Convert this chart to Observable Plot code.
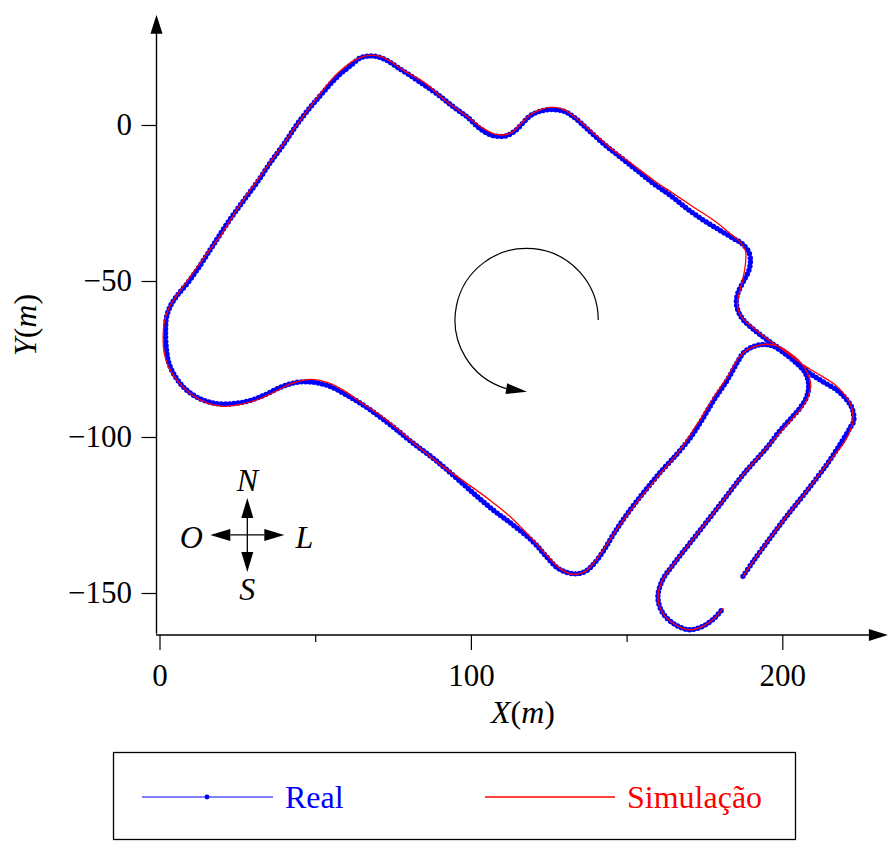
<!DOCTYPE html>
<html><head><meta charset="utf-8">
<script src="https://cdn.jsdelivr.net/npm/d3@7"></script>
<script src="https://cdn.jsdelivr.net/npm/@observablehq/plot@0.6"></script>
<style>
body{margin:0;background:#fff;width:888px;height:842px;overflow:hidden;position:relative;font-family:"Liberation Serif",serif}
#chart svg{display:block}
#legend{position:absolute;left:0;top:745px}
</style></head><body>
<div id="chart"></div>
<svg id="legend" width="888" height="97"></svg>
<script>
// ---- data (metres) ----
const realX = [187.2,190.7,196.1,201.4,207.8,214.3,218.5,221.7,222.8,222.3,
220.7,217.5,213.2,208.9,205.7,201.4,196.1,191.8,187.5,185.6,
185.1,185.7,187.5,189.1,189.6,189.1,187.0,184.3,180.0,174.6,
169.3,163.9,158.6,153.2,147.9,142.5,137.2,132.9,129.7,125.4,
122.2,119.0,116.8,114.2,111.5,109.3,106.1,102.9,98.7,94.3,
89.0,84.7,80.4,76.2,73.0,69.7,67.6,64.4,61.2,58.0,
54.8,51.5,48.3,44.1,39.8,35.5,31.2,26.9,22.6,18.9,
16.2,12.5,8.7,5.5,3.4,2.1,1.8,2.0,2.8,4.4,
7.6,11.9,17.3,22.6,28.0,33.3,38.7,44.1,49.4,54.8,
60.1,65.4,70.8,75.6,81.5,87.9,94.3,100.8,107.2,113.6,
120.0,124.3,128.1,132.9,136.6,139.3,142.5,145.7,150.0,155.4,
160.7,166.1,170.4,173.6,177.8,182.1,185.4,187.5,190.7,193.9,
197.1,201.4,204.6,206.7,208.0,208.3,207.6,205.7,202.5,198.7,
195.0,187.5,180.0,172.5,165.0,161.3,159.9,161.3,165.0,169.8,174.1,177.8,180.7];
const realY = [-144.5,-139.4,-132.0,-125.0,-117.0,-108.4,-102.0,-96.7,-94.6,-90.8,
-88.1,-84.9,-82.3,-79.6,-76.9,-73.2,-69.5,-66.3,-62.5,-59.3,
-56.1,-53.4,-49.7,-46.5,-43.3,-40.6,-37.9,-36.3,-33.7,-30.4,
-26.7,-22.4,-18.7,-14.4,-10.2,-5.9,-1.1,2.7,4.6,5.1,
4.6,3.2,1.1,-1.6,-3.2,-3.5,-3.0,-1.1,2.7,5.9,
10.1,13.1,16.0,18.7,20.8,22.1,22.3,21.7,19.2,16.6,
13.4,9.6,5.9,0.5,-5.9,-11.8,-18.2,-24.0,-29.9,-35.5,
-39.7,-45.4,-50.7,-54.5,-57.7,-61.4,-65.7,-71.1,-75.9,-79.6,
-83.9,-87.1,-89.0,-89.2,-88.4,-86.5,-83.9,-82.3,-82.3,-83.7,
-86.5,-89.7,-93.5,-97.2,-102.0,-106.8,-112.2,-118.0,-123.4,-128.2,
-133.6,-138.4,-142.1,-143.7,-142.9,-140.5,-136.2,-130.9,-124.5,-117.5,
-111.1,-105.2,-99.9,-95.1,-88.1,-81.7,-75.9,-72.7,-70.8,-70.2,
-70.8,-73.7,-76.4,-78.5,-81.2,-83.9,-87.1,-90.3,-94.0,-98.3,
-103.1,-111.6,-121.3,-130.9,-140.5,-145.8,-151.2,-156.0,-159.7,-161.6,-160.6,-158.1,-154.9];

const simX = [187.2,190.7,196.1,201.4,207.8,214.3,220.1,222.0,222.6,221.7,
219.6,216.4,212.1,207.8,204.6,200.3,195.0,189.6,186.4,185.4,
186.2,187.3,188.0,188.0,186.4,183.2,177.8,171.4,165.0,158.6,
152.2,145.7,139.3,134.0,129.7,125.9,122.2,119.0,115.8,113.1,
110.4,107.2,102.9,97.6,92.2,84.7,78.3,73.0,69.7,66.5,
62.2,58.0,54.8,51.5,47.3,41.9,36.5,31.2,25.9,19.4,
16.2,11.9,7.6,5.0,2.8,1.4,1.0,1.4,2.8,5.5,
9.8,15.2,20.5,25.9,31.2,36.5,41.9,48.3,53.7,59.0,
64.4,70.8,75.6,83.7,91.1,98.7,106.1,112.6,119.0,124.3,
128.6,132.9,136.6,139.9,143.6,147.9,153.2,159.7,166.1,173.6,
177.8,182.1,185.9,189.1,193.4,197.7,201.9,205.7,207.8,208.9,
208.3,206.2,203.0,198.2,195.0,187.5,180.0,172.5,165.0,161.3,
159.9,161.3,165.0,169.8,174.1,177.8,180.7];
const simY = [-144.5,-139.4,-132.0,-125.0,-117.0,-108.4,-101.0,-96.7,-93.5,-89.2,
-86.0,-82.8,-80.1,-77.5,-75.3,-72.1,-68.4,-64.1,-60.9,-57.1,
-52.9,-48.6,-44.3,-40.1,-37.4,-34.7,-30.4,-26.2,-21.9,-17.6,
-12.8,-8.0,-2.5,2.1,5.1,5.9,5.1,3.5,0.5,-2.1,
-3.0,-2.7,-0.3,3.7,7.5,13.9,17.6,21.2,22.4,22.4,
20.8,17.6,14.4,10.2,4.8,-2.7,-10.2,-17.6,-25.1,-35.3,
-39.5,-45.4,-51.3,-55.0,-58.7,-63.0,-67.9,-73.2,-77.5,-81.7,
-86.0,-89.0,-90.0,-89.4,-87.9,-85.5,-82.8,-81.4,-82.3,-84.9,
-88.7,-92.9,-96.7,-103.6,-109.5,-114.8,-120.2,-125.5,-132.0,-137.8,
-142.1,-143.9,-142.9,-139.4,-134.1,-127.7,-120.7,-112.7,-105.2,-94.0,
-87.1,-80.7,-74.3,-71.6,-70.2,-70.5,-72.7,-75.9,-79.1,-82.8,
-86.5,-90.3,-94.0,-99.4,-103.1,-111.6,-121.3,-130.9,-140.5,-145.8,
-151.2,-156.0,-159.7,-161.6,-160.6,-158.1,-154.9];

const xTicks = [0, 100, 200];
const xMinorTicks = [50, 150];
const yTicks = [0, -50, -100, -150];
const seriesNames = ["Real", "Simulação"];
const compassLabels = ["N", "S", "O", "L"];
const xLabel = "X", yLabel = "Y", unit = "m";

// annotation anchors (data units)
const compass = {x: 28.2, y: -131.4};
const rotation = {x: 117.9, y: -62.5, r: 23};
const axisXExtent = [-1.1, 233.9];
const axisYExtent = [-163.1, 35.3];

// ---- build ----
const W = 888, H = 745, axisPx = 635, axisLeft = 156.5;
const real = realX.map((x, i) => ({x, y: realY[i]}));
const sim = simX.map((x, i) => ({x, y: simY[i]}));
const fmt = d => d < 0 ? "\u2212" + Math.abs(d) : String(d);
const FONT = '"Liberation Serif", "DejaVu Serif", serif';

const plot = Plot.plot({
  width: W, height: H,
  marginLeft: axisLeft, marginRight: 0, marginTop: 15, marginBottom: H - axisPx,
  x: {domain: [0, 200], range: [159.5, 782.3]},
  y: {domain: [0, -150], range: [125, 593]},
  style: {fontFamily: FONT, color: "black", background: "white", overflow: "visible"},
  marks: [
    Plot.axisX({ticks: xTicks, tickSize: 15, tickPadding: 13, fontSize: 31, tickFormat: fmt, label: null, strokeWidth: 1.2}),
    Plot.axisX({ticks: xMinorTicks, tickSize: 7, tickFormat: () => "", label: null, strokeWidth: 1.2}),
    Plot.axisY({ticks: yTicks, tickSize: 15, tickPadding: 10, fontSize: 31, tickFormat: fmt, label: null, strokeWidth: 1.2}),
    Plot.line(real, {x: "x", y: "y", stroke: "#0000ff", strokeWidth: 1, curve: "catmull-rom"}),
    Plot.line(real, {x: "x", y: "y", stroke: "#0000ff", strokeWidth: 5.4, strokeDasharray: "0 4.2", strokeLinecap: "round", curve: "catmull-rom"}),
    Plot.line(sim, {x: "x", y: "y", stroke: "#ff0000", strokeWidth: 1.3, curve: "catmull-rom"})
  ]
});
document.getElementById("chart").appendChild(plot);

const sx = plot.scale("x"), sy = plot.scale("y");
const svg = d3.select(plot);
const g = svg.append("g");

// axis lines with arrowheads
const xa0 = sx.apply(axisXExtent[0]), xa1 = sx.apply(axisXExtent[1]);
g.append("line").attr("x1", xa0).attr("x2", xa1 - 15).attr("y1", axisPx).attr("y2", axisPx)
  .attr("stroke", "black").attr("stroke-width", 1.4);
g.append("path").attr("d", `M${xa1},${axisPx}L${xa1 - 19},${axisPx - 6}L${xa1 - 19},${axisPx + 6}Z`).attr("fill", "black");
const ya0 = sy.apply(axisYExtent[0]), ya1 = sy.apply(axisYExtent[1]);
g.append("line").attr("x1", axisLeft).attr("x2", axisLeft).attr("y1", ya0).attr("y2", ya1 + 15)
  .attr("stroke", "black").attr("stroke-width", 1.4);
g.append("path").attr("d", `M${axisLeft},${ya1}L${axisLeft - 6},${ya1 + 19}L${axisLeft + 6},${ya1 + 19}Z`).attr("fill", "black");

// axis labels
function mathLabel(sel, letter) {
  sel.append("tspan").attr("font-style", "italic").text(letter);
  sel.append("tspan").text("(");
  sel.append("tspan").attr("font-style", "italic").text(unit);
  sel.append("tspan").text(")");
}
const xl = g.append("text").attr("x", 523).attr("y", 723).attr("text-anchor", "middle")
  .attr("font-family", FONT).attr("font-size", 32);
mathLabel(xl, xLabel);
const yl = g.append("text").attr("transform", "translate(36,325) rotate(-90)").attr("text-anchor", "middle")
  .attr("font-family", FONT).attr("font-size", 32);
mathLabel(yl, yLabel);

// compass
const cx = sx.apply(compass.x), cy = sy.apply(compass.y);
const arm = 37, ah = 20, hw = 6;
g.append("line").attr("x1", cx).attr("x2", cx).attr("y1", cy - arm + ah).attr("y2", cy + arm - ah).attr("stroke", "black").attr("stroke-width", 1.3);
g.append("line").attr("x1", cx - arm + ah).attr("x2", cx + arm - ah).attr("y1", cy).attr("y2", cy).attr("stroke", "black").attr("stroke-width", 1.3);
[[0, -1], [0, 1], [-1, 0], [1, 0]].forEach(([dx, dy]) => {
  const tx = cx + dx * arm, ty = cy + dy * arm;
  const bx = cx + dx * (arm - ah), by = cy + dy * (arm - ah);
  const px = -dy * hw, py = dx * hw;
  g.append("path").attr("d", `M${tx},${ty}L${bx + px},${by + py}L${bx - px},${by - py}Z`).attr("fill", "black");
});
const lblOff = [[0, -55], [0, 54], [-56, 2], [57, 2]];
compassLabels.forEach((t, i) => {
  g.append("text").attr("x", cx + lblOff[i][0]).attr("y", cy + lblOff[i][1]).attr("dy", "0.35em")
    .attr("text-anchor", "middle").attr("font-family", FONT).attr("font-style", "italic").attr("font-size", 32).text(t);
});

// rotation arrow
const rcx = sx.apply(rotation.x), rcy = sy.apply(rotation.y), rr = sx.apply(rotation.r) - sx.apply(0);
const th = 253.5 * Math.PI / 180;
const ex = rcx + rr * Math.cos(th), ey = rcy - rr * Math.sin(th);
g.append("path").attr("d", `M${rcx + rr},${rcy}A${rr},${rr} 0 1 0 ${ex},${ey}`)
  .attr("fill", "none").attr("stroke", "black").attr("stroke-width", 1.2);
const ta = th + 8 * Math.PI / 180;
const dxT = -Math.sin(ta), dyT = -Math.cos(ta);
const tipX = ex + 21 * dxT, tipY = ey + 21 * dyT;
g.append("path").attr("d", `M${tipX},${tipY}L${ex - dyT * 5.4},${ey + dxT * 5.4}L${ex + dyT * 5.4},${ey - dxT * 5.4}Z`).attr("fill", "black");

// legend
const lg = d3.select("#legend");
lg.append("rect").attr("x", 113.5).attr("y", 7.5).attr("width", 682).attr("height", 87)
  .attr("fill", "white").attr("stroke", "black").attr("stroke-width", 1.3);
lg.append("line").attr("x1", 142).attr("x2", 273).attr("y1", 52).attr("y2", 52).attr("stroke", "#0000ff").attr("stroke-width", 1.2);
lg.append("circle").attr("cx", 207).attr("cy", 52).attr("r", 2.4).attr("fill", "#0000ff");
lg.append("text").attr("x", 285).attr("y", 63).attr("font-family", FONT).attr("font-size", 32).attr("fill", "#0000ff").text(seriesNames[0]);
lg.append("line").attr("x1", 485).attr("x2", 615).attr("y1", 52).attr("y2", 52).attr("stroke", "#ff0000").attr("stroke-width", 1.3);
lg.append("text").attr("x", 627).attr("y", 63).attr("font-family", FONT).attr("font-size", 32).attr("fill", "#ff0000").text(seriesNames[1]);
</script></body></html>
